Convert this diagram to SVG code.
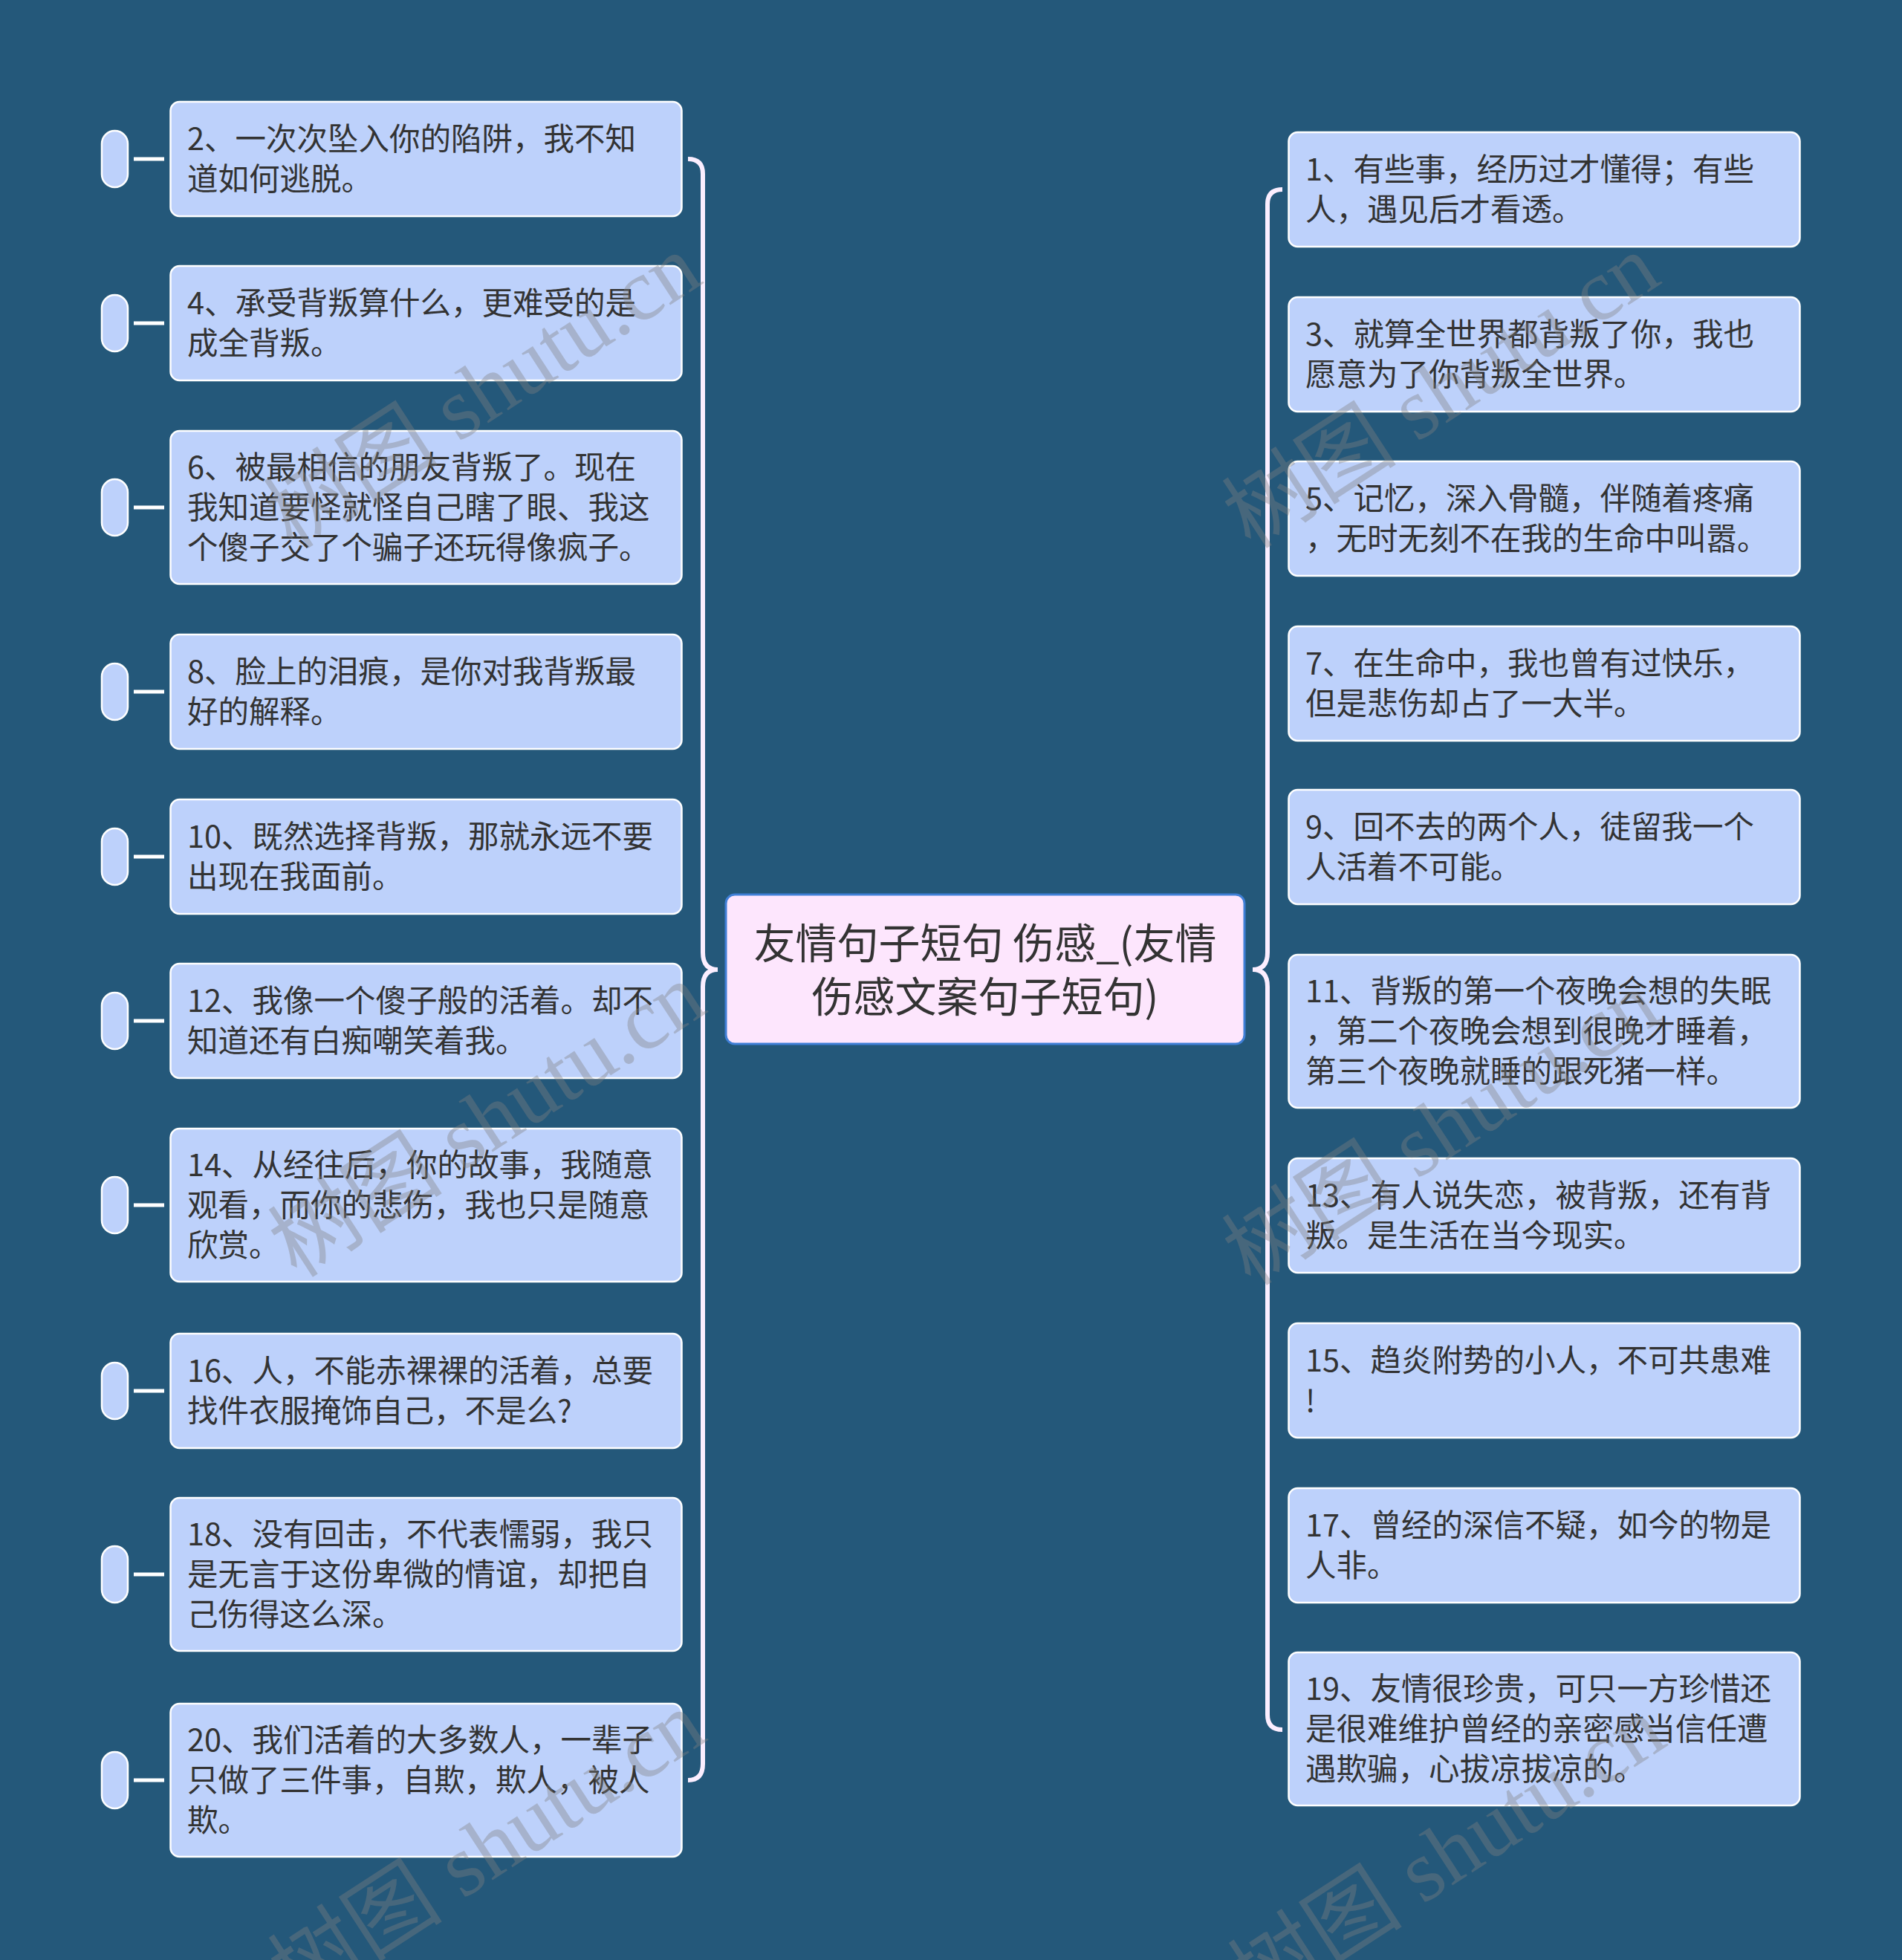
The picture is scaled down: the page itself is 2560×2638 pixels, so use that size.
<svg xmlns="http://www.w3.org/2000/svg" width="2560" height="2638" viewBox="0 0 2560 2638">
<style>
.bg{fill:#24587a}
.node rect{fill:#bdd1fb;stroke:#ffffff;stroke-width:2.5}
.pill{fill:#bdd1fb;stroke:#ffffff;stroke-width:3}
.tick{stroke:#ffffff;stroke-width:5}
.t{font-family:"Noto Sans CJK SC","Noto Sans",sans-serif;font-size:41.5px;fill:#333333;dominant-baseline:central}
.root rect{fill:#fde6fd;stroke:#3f7fd6;stroke-width:3}
.rt{font-family:"Noto Sans CJK SC","Noto Sans",sans-serif;font-size:56px;fill:#333333;dominant-baseline:central;text-anchor:middle}
.brace{fill:none;stroke:#fbeeff;stroke-width:6;stroke-linecap:butt}
.wm{font-family:"Liberation Serif","Noto Sans CJK SC",serif;font-size:118px;fill:#808080;fill-opacity:0.38;text-anchor:middle;dominant-baseline:central}
</style>
<rect class="bg" x="0" y="0" width="2560" height="2638"/>

<g id="connectors">
<path class="brace" d="M926 214 Q946 214 946 234 L946 1282 Q946 1305 966 1305 Q946 1305 946 1328 L946 2374 Q946 2396 926 2396"/>
<path class="brace" d="M1726 255 Q1706 255 1706 275 L1706 1282 Q1706 1305 1686 1305 Q1706 1305 1706 1328 L1706 2308 Q1706 2328 1726 2328"/>
</g>

<g id="root" class="root">
<rect x="977" y="1204" width="698" height="201" rx="12"/>
<text class="rt" x="1326" y="1265">友情句子短句 伤感_(友情</text>
<text class="rt" x="1326" y="1337">伤感文案句子短句)</text>
</g>

<g id="n2" class="node"><rect class="pill" x="137" y="176" width="35" height="76" rx="17.5"/><line class="tick" x1="180" y1="214" x2="221" y2="214"/><rect x="229.5" y="137" width="688" height="154" rx="12"/><text class="t" x="252" y="184">2、一次次坠入你的陷阱，我不知</text><text class="t" x="252" y="238">道如何逃脱。</text></g>
<g id="n4" class="node"><rect class="pill" x="137" y="397" width="35" height="76" rx="17.5"/><line class="tick" x1="180" y1="435" x2="221" y2="435"/><rect x="229.5" y="358" width="688" height="154" rx="12"/><text class="t" x="252" y="405">4、承受背叛算什么，更难受的是</text><text class="t" x="252" y="459">成全背叛。</text></g>
<g id="n6" class="node"><rect class="pill" x="137" y="645" width="35" height="76" rx="17.5"/><line class="tick" x1="180" y1="683" x2="221" y2="683"/><rect x="229.5" y="580" width="688" height="206" rx="12"/><text class="t" x="252" y="626">6、被最相信的朋友背叛了。现在</text><text class="t" x="252" y="680">我知道要怪就怪自己瞎了眼、我这</text><text class="t" x="252" y="734">个傻子交了个骗子还玩得像疯子。</text></g>
<g id="n8" class="node"><rect class="pill" x="137" y="893" width="35" height="76" rx="17.5"/><line class="tick" x1="180" y1="931" x2="221" y2="931"/><rect x="229.5" y="854" width="688" height="154" rx="12"/><text class="t" x="252" y="901">8、脸上的泪痕，是你对我背叛最</text><text class="t" x="252" y="955">好的解释。</text></g>
<g id="n10" class="node"><rect class="pill" x="137" y="1115" width="35" height="76" rx="17.5"/><line class="tick" x1="180" y1="1153" x2="221" y2="1153"/><rect x="229.5" y="1076" width="688" height="154" rx="12"/><text class="t" x="252" y="1123">10、既然选择背叛，那就永远不要</text><text class="t" x="252" y="1177">出现在我面前。</text></g>
<g id="n12" class="node"><rect class="pill" x="137" y="1336" width="35" height="76" rx="17.5"/><line class="tick" x1="180" y1="1374" x2="221" y2="1374"/><rect x="229.5" y="1297" width="688" height="154" rx="12"/><text class="t" x="252" y="1344">12、我像一个傻子般的活着。却不</text><text class="t" x="252" y="1398">知道还有白痴嘲笑着我。</text></g>
<g id="n14" class="node"><rect class="pill" x="137" y="1584" width="35" height="76" rx="17.5"/><line class="tick" x1="180" y1="1622" x2="221" y2="1622"/><rect x="229.5" y="1519" width="688" height="206" rx="12"/><text class="t" x="252" y="1565">14、从经往后，你的故事，我随意</text><text class="t" x="252" y="1619">观看，而你的悲伤，我也只是随意</text><text class="t" x="252" y="1673">欣赏。</text></g>
<g id="n16" class="node"><rect class="pill" x="137" y="1834" width="35" height="76" rx="17.5"/><line class="tick" x1="180" y1="1872" x2="221" y2="1872"/><rect x="229.5" y="1795" width="688" height="154" rx="12"/><text class="t" x="252" y="1842">16、人，不能赤裸裸的活着，总要</text><text class="t" x="252" y="1896">找件衣服掩饰自己，不是么?</text></g>
<g id="n18" class="node"><rect class="pill" x="137" y="2081" width="35" height="76" rx="17.5"/><line class="tick" x1="180" y1="2119" x2="221" y2="2119"/><rect x="229.5" y="2016" width="688" height="206" rx="12"/><text class="t" x="252" y="2062">18、没有回击，不代表懦弱，我只</text><text class="t" x="252" y="2116">是无言于这份卑微的情谊，却把自</text><text class="t" x="252" y="2170">己伤得这么深。</text></g>
<g id="n20" class="node"><rect class="pill" x="137" y="2358" width="35" height="76" rx="17.5"/><line class="tick" x1="180" y1="2396" x2="221" y2="2396"/><rect x="229.5" y="2293" width="688" height="206" rx="12"/><text class="t" x="252" y="2339">20、我们活着的大多数人，一辈子</text><text class="t" x="252" y="2393">只做了三件事，自欺，欺人，被人</text><text class="t" x="252" y="2447">欺。</text></g>

<g id="n1" class="node"><rect x="1734.5" y="178" width="688" height="154" rx="12"/><text class="t" x="1757" y="225">1、有些事，经历过才懂得；有些</text><text class="t" x="1757" y="279">人，遇见后才看透。</text></g>
<g id="n3" class="node"><rect x="1734.5" y="400" width="688" height="154" rx="12"/><text class="t" x="1757" y="447">3、就算全世界都背叛了你，我也</text><text class="t" x="1757" y="501">愿意为了你背叛全世界。</text></g>
<g id="n5" class="node"><rect x="1734.5" y="621" width="688" height="154" rx="12"/><text class="t" x="1757" y="668">5、记忆，深入骨髓，伴随着疼痛</text><text class="t" x="1757" y="722">，无时无刻不在我的生命中叫嚣。</text></g>
<g id="n7" class="node"><rect x="1734.5" y="843" width="688" height="154" rx="12"/><text class="t" x="1757" y="890">7、在生命中，我也曾有过快乐，</text><text class="t" x="1757" y="944">但是悲伤却占了一大半。</text></g>
<g id="n9" class="node"><rect x="1734.5" y="1063" width="688" height="154" rx="12"/><text class="t" x="1757" y="1110">9、回不去的两个人，徒留我一个</text><text class="t" x="1757" y="1164">人活着不可能。</text></g>
<g id="n11" class="node"><rect x="1734.5" y="1285" width="688" height="206" rx="12"/><text class="t" x="1757" y="1331">11、背叛的第一个夜晚会想的失眠</text><text class="t" x="1757" y="1385">，第二个夜晚会想到很晚才睡着，</text><text class="t" x="1757" y="1439">第三个夜晚就睡的跟死猪一样。</text></g>
<g id="n13" class="node"><rect x="1734.5" y="1559" width="688" height="154" rx="12"/><text class="t" x="1757" y="1606">13、有人说失恋，被背叛，还有背</text><text class="t" x="1757" y="1660">叛。是生活在当今现实。</text></g>
<g id="n15" class="node"><rect x="1734.5" y="1781" width="688" height="154" rx="12"/><text class="t" x="1757" y="1828">15、趋炎附势的小人，不可共患难</text><text class="t" x="1757" y="1882">!</text></g>
<g id="n17" class="node"><rect x="1734.5" y="2003" width="688" height="154" rx="12"/><text class="t" x="1757" y="2050">17、曾经的深信不疑，如今的物是</text><text class="t" x="1757" y="2104">人非。</text></g>
<g id="n19" class="node"><rect x="1734.5" y="2224" width="688" height="206" rx="12"/><text class="t" x="1757" y="2270">19、友情很珍贵，可只一方珍惜还</text><text class="t" x="1757" y="2324">是很难维护曾经的亲密感当信任遭</text><text class="t" x="1757" y="2378">遇欺骗，心拔凉拔凉的。</text></g>

<g id="watermarks">
<text class="wm" transform="translate(650,527) rotate(-33)">树图 shutu.cn</text>
<text class="wm" transform="translate(1940,527) rotate(-33)">树图 shutu.cn</text>
<text class="wm" transform="translate(656,1508) rotate(-33)">树图 shutu.cn</text>
<text class="wm" transform="translate(1940,1519) rotate(-33)">树图 shutu.cn</text>
<text class="wm" transform="translate(656,2488) rotate(-33)">树图 shutu.cn</text>
<text class="wm" transform="translate(1948,2495) rotate(-33)">树图 shutu.cn</text>
</g>
</svg>
